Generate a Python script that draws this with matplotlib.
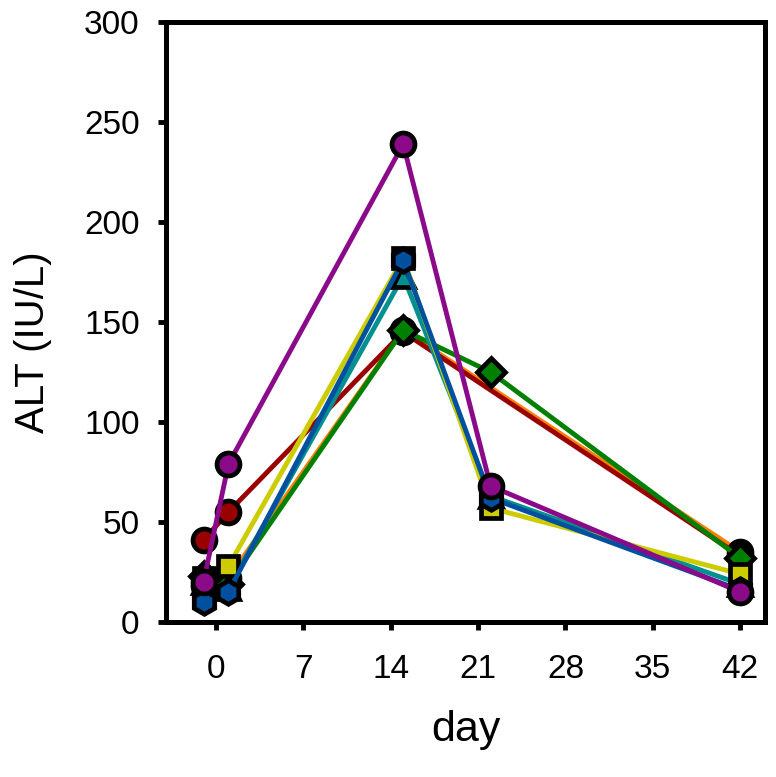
import matplotlib
matplotlib.use("Agg")
import matplotlib.pyplot as plt
import numpy as np

plt.rcParams['font.family'] = ['Liberation Sans', 'DejaVu Sans']

days = [-1, 1, 15, 22, 42]
x_ticks = [0, 7, 14, 21, 28, 35, 42]
y_ticks = [0, 50, 100, 150, 200, 250, 300]

# Series values (None = no measurement)
orange_vals  = [18, 22, 146, None, 35]
darkred_vals = [41, 55, 145, None, 33]
green_vals   = [23, 19, 146, 125, 32]
teal_vals    = [20, 17, 173, 63, 19]
yellow_vals  = [22, 28, 182, 57, 24]
blue_vals    = [10, 15, 181, 62, 16]
purple_vals  = [20, 79, 239, 68, 15]

series = [
    ("orange",  orange_vals,  "#ff8000", "o"),
    ("darkred", darkred_vals, "#990000", "o"),
    ("green",   green_vals,   "#008000", "D"),
    ("teal",    teal_vals,    "#009090", "^"),
    ("yellow",  yellow_vals,  "#cccc00", "s"),
    ("blue",    blue_vals,    "#0050a0", "h"),
    ("purple",  purple_vals,  "#8a0a8a", "o"),
]

fig = plt.figure(figsize=(7.76, 7.77), dpi=100)
ax = fig.add_axes([0.214, 0.1995, 0.772, 0.772])

sizes = {"o": 16.5, "D": 14, "^": 16, "s": 15, "h": 17}
for name, vals, col, mk in series:
    xs = [d for d, v in zip(days, vals) if v is not None]
    ys = [v for v in vals if v is not None]
    ax.plot(xs, ys, color=col, lw=3.5, marker=mk, markersize=sizes[mk],
            markerfacecolor=col, markeredgecolor="black", markeredgewidth=3.4,
            clip_on=False)

ax.set_xlim(-4, 44)
ax.set_ylim(0, 300)
ax.set_xticks(x_ticks)
ax.set_yticks(y_ticks)
ax.tick_params(axis='both', direction='out', length=6, width=3.5, labelsize=24)
ax.tick_params(axis='x', pad=17)
ax.tick_params(axis='y', pad=13)
for s in ax.spines.values():
    s.set_linewidth(3.6)

ax.set_xlabel("day", fontsize=31, labelpad=18)
ax.set_ylabel("ALT (IU/L)", fontsize=29, labelpad=20)
ax.yaxis.set_label_coords(-0.19, 0.467)

fig.savefig("out.png", dpi=100)
